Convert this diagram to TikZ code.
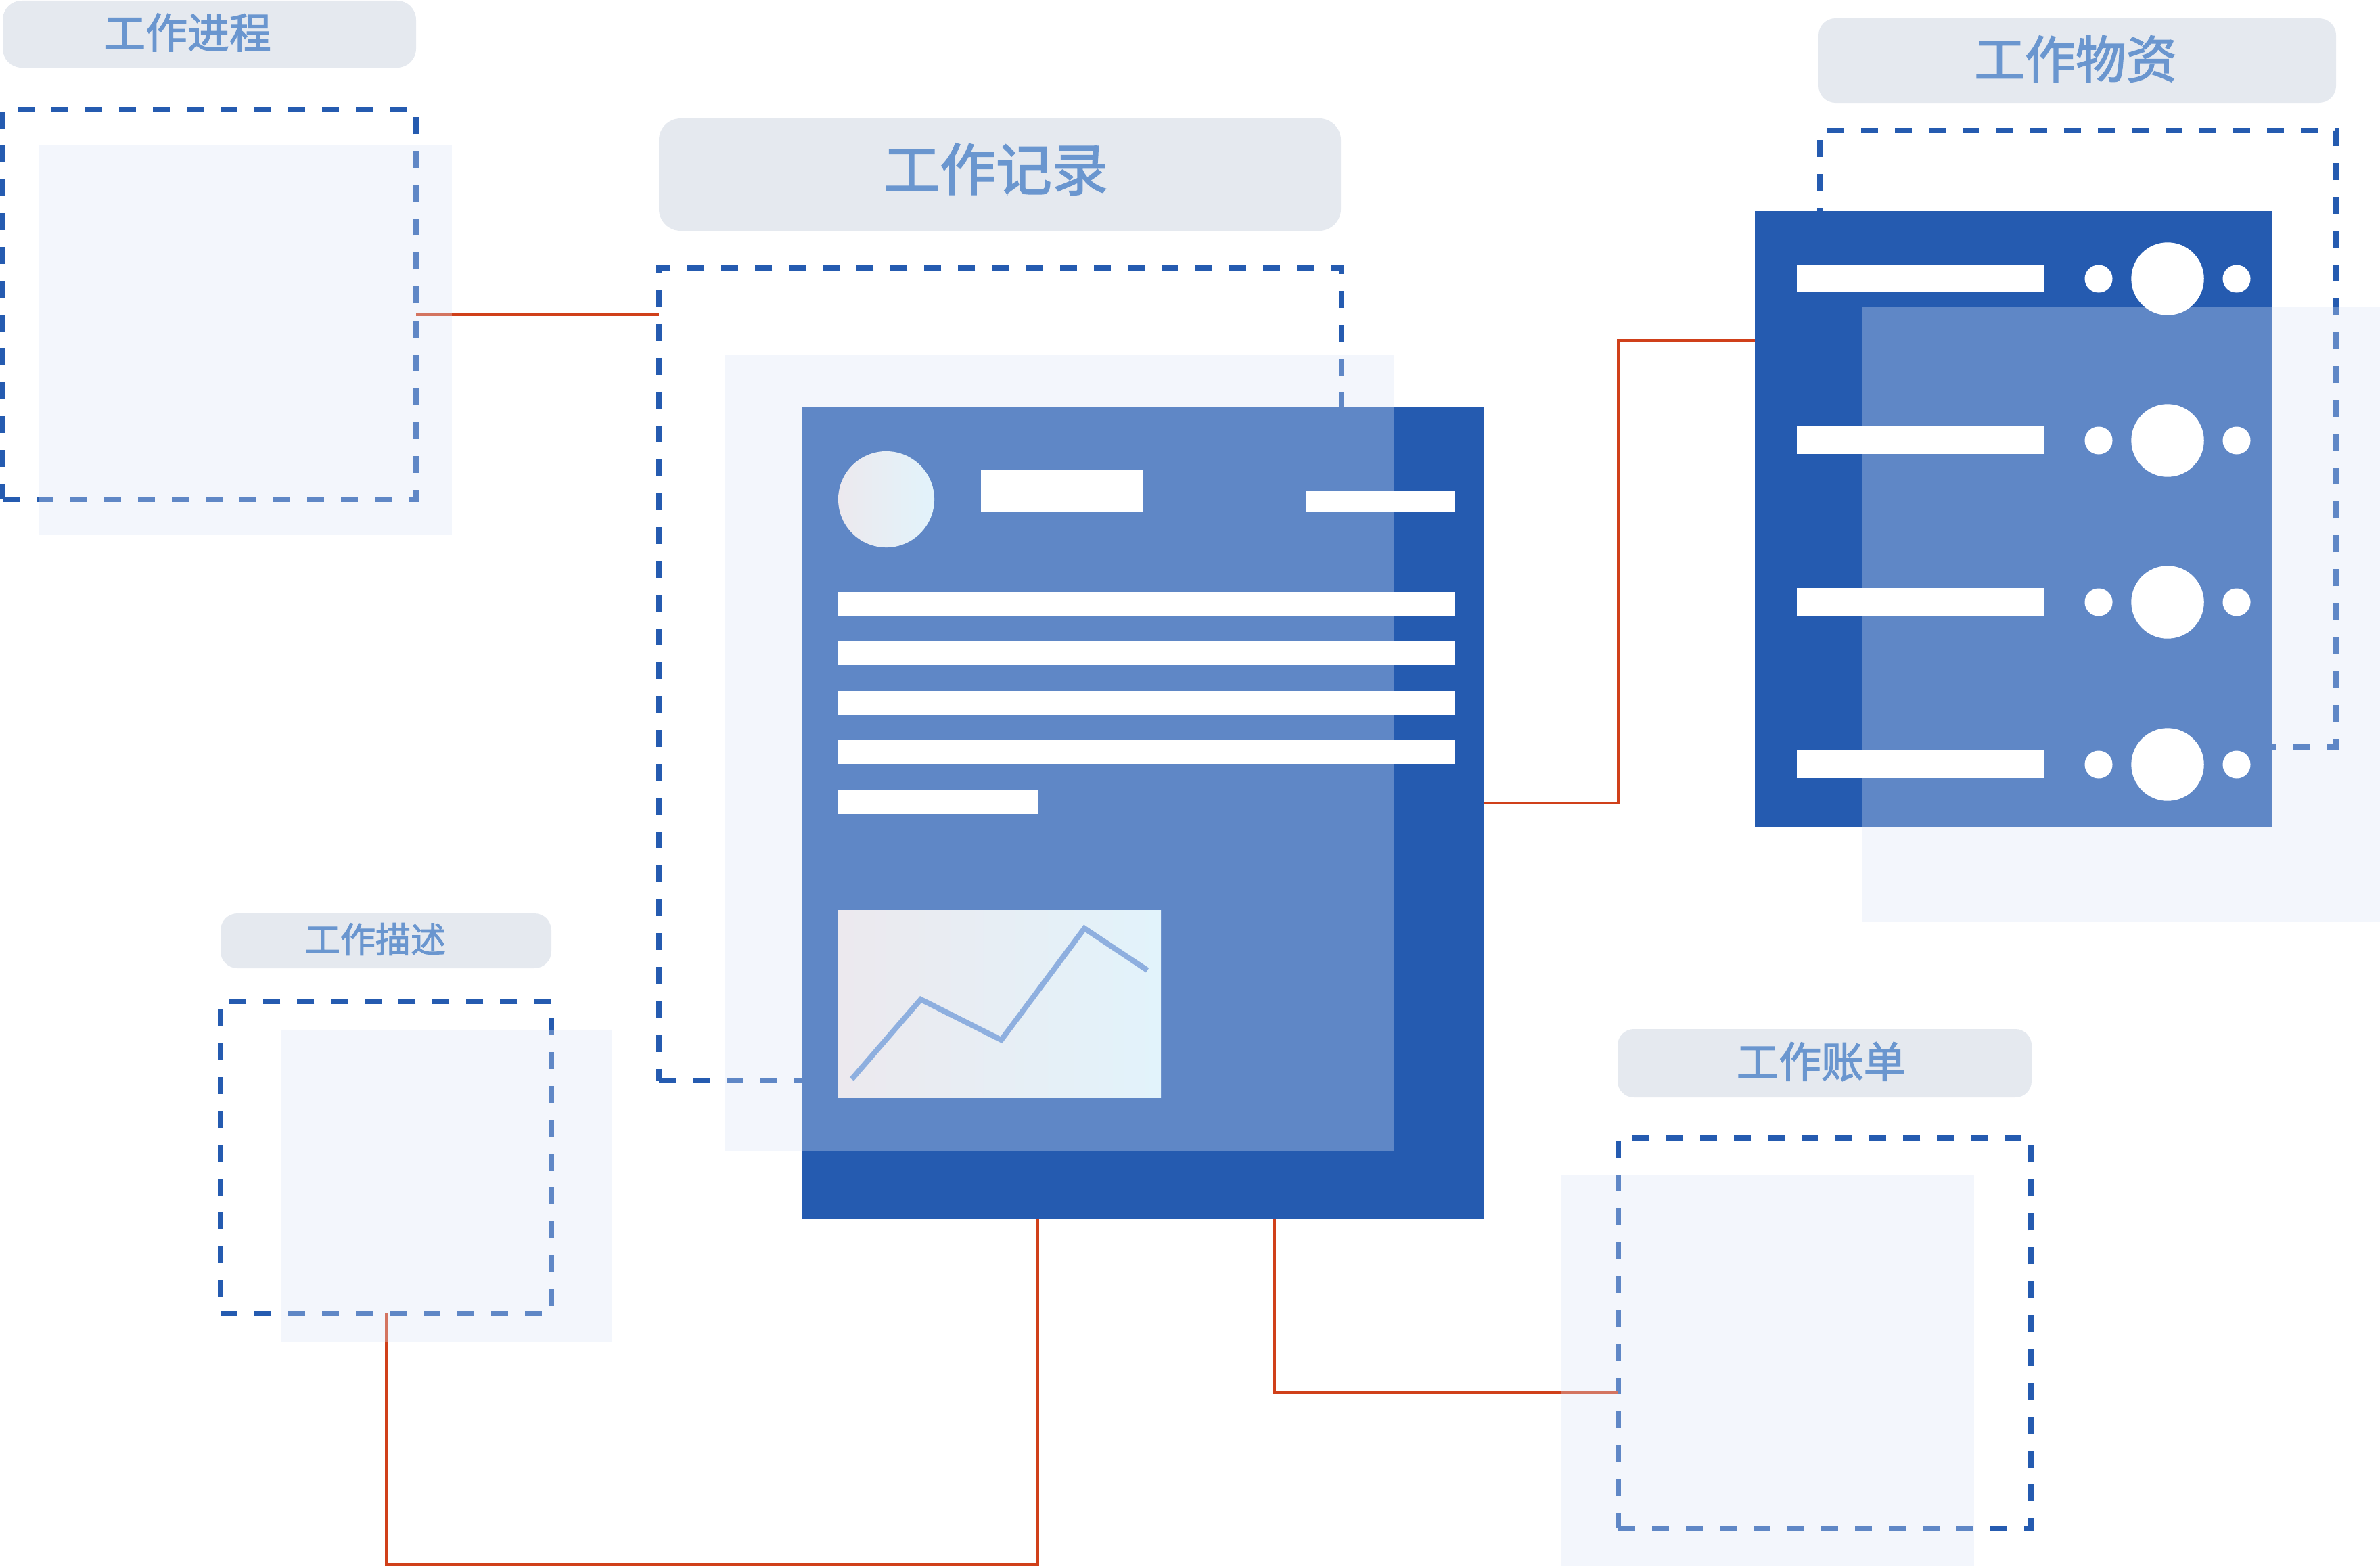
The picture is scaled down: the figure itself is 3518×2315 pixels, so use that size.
\documentclass[tikz,border=0pt]{standalone}
\usepackage{fontspec}
\usepackage{xcolor}
\usetikzlibrary{fit}
\newfontfamily\cjk[BoldFont={Noto Sans CJK SC}, BoldFeatures={FakeBold=2}]{Noto Sans CJK SC}
\definecolor{deepblue}{HTML}{255BB0}
\definecolor{paneltint}{HTML}{DAE4F6}
\definecolor{taggray}{HTML}{E5E9EF}
\definecolor{tagblue}{HTML}{6A96CF}
\definecolor{linkred}{HTML}{D0401A}
\definecolor{chartline}{HTML}{8EAFDF}
\definecolor{shadeL}{HTML}{ECE9EE}
\definecolor{shadeR}{HTML}{E2F3FB}

\begin{document}
\begin{tikzpicture}[x=0.01cm,y=-0.01cm,
	dashframe/.style={draw=deepblue, line width=0.08cm, dash pattern=on 0.25cm off 0.25cm, inner sep=0pt, outer sep=0pt},
	card/.style={fill=deepblue, inner sep=0pt, outer sep=0pt},
	panel/.style={fill=paneltint, fill opacity=0.32},
	wire/.style={draw=linkred, line width=0.04cm},
	tagbox/.style={fill=taggray, inner sep=0pt, outer sep=0pt},
	tagtext/.style={text=tagblue, inner sep=0pt},
	whitebar/.style={fill=white}]
	\useasboundingbox (0,0) rectangle (3518,2315);
	%% ========================================================
	% dashed frames and the two cards
	\node[dashframe, fit={(4,162) (615,738)}] (jcFrame) {};
	\node[dashframe, fit={(974,396) (1983,1597)}] (jlFrame) {};
	\node[dashframe, fit={(2690,193) (3453,1104)}] (wzFrame) {};
	\node[dashframe, fit={(326,1480) (815,1941)}] (msFrame) {};
	\node[dashframe, fit={(2392,1682) (3002,2259)}] (zdFrame) {};

	\node[card, fit={(1185,602) (2193,1802)}] (jlCard) {};
	\node[card, fit={(2594,312) (3359,1222)}] (wzCard) {};
	%% ========================================================
	% connectors
	\draw[wire] (jcFrame.east |- 0,465) -- (jlFrame.west |- 0,465);
	\draw[wire] (jlCard.east |- 0,1187) -- ++(199,0) |- (wzCard.west |- 0,503);
	\draw[wire] (msFrame.south -| 571,0) -- ++(0,371) -| (jlCard.south -| 1534,0);
	\draw[wire] (jlCard.south -| 1884,0) |- (zdFrame.west |- 0,2058);
	%% ========================================================
	% light panels
	\fill[panel] (58,215) rectangle (668,791);
	\fill[panel] (1072,525) rectangle (2061,1701);
	\fill[panel] (2753,454) rectangle (3518,1363);
	\fill[panel] (416,1522) rectangle (905,1983);
	\fill[panel] (2308,1736) rectangle (2918,2315);
	%% ========================================================
	% record card
	\shade[left color=shadeL, right color=shadeR] (1310,738) circle[radius=0.71cm];
	\fill[whitebar] (1450,694) rectangle (1689,756);
	\fill[whitebar] (1931,725) rectangle (2151,756);
	\foreach \y in {875,948,1022,1094}
		\fill[whitebar] (1238,\y) rectangle (2151,\y+35);
	\fill[whitebar] (1238,1168) rectangle (1535,1203);
	\shade[left color=shadeL, right color=shadeR] (1238,1345) rectangle (1716,1622);
	\draw[chartline, line width=0.08cm] (1259,1595) -- (1361,1477) -- (1480,1537) -- (1603,1372) -- (1696,1434);
	%% ========================================================
	% materials card
	\foreach \y in {412,651,890,1130} {
		\fill[whitebar] (2656,\y-21) rectangle (3021,\y+20);
		\fill[white] (3102,\y) circle[radius=0.205cm];
		\fill[white] (3204,\y) circle[radius=0.537cm];
		\fill[white] (3306,\y) circle[radius=0.205cm];
	}
	%% ========================================================
	% tags
	\node[tagbox, rounded corners=0.28cm, fit={(4,1) (615,100)}] (jcTag) {};
	\node[tagtext, font=\cjk\bfseries\fontsize{17.6pt}{20pt}\selectfont] (jcTagText) at (277,48) {工作进程};

	\node[tagbox, rounded corners=0.32cm, fit={(974,175) (1982,341)}] (jlTag) {};
	\node[tagtext, font=\cjk\bfseries\fontsize{23.6pt}{27pt}\selectfont] (jlTagText) at (1472,250) {工作记录};

	\node[tagbox, rounded corners=0.25cm, fit={(2688,27) (3453,152)}] (wzTag) {};
	\node[tagtext, font=\cjk\bfseries\fontsize{21.3pt}{24pt}\selectfont] (wzTagText) at (3068,87) {工作物资};

	\node[tagbox, rounded corners=0.25cm, fit={(326,1350) (815,1431)}] (msTag) {};
	\node[tagtext, font=\cjk\bfseries\fontsize{14.8pt}{17pt}\selectfont] (msTagText) at (555,1388) {工作描述};

	\node[tagbox, rounded corners=0.24cm, fit={(2391,1521) (3003,1622)}] (zdTag) {};
	\node[tagtext, font=\cjk\bfseries\fontsize{17.8pt}{20pt}\selectfont] (zdTagText) at (2692,1569) {工作账单};
	%% ========================================================
\end{tikzpicture}
\end{document}
